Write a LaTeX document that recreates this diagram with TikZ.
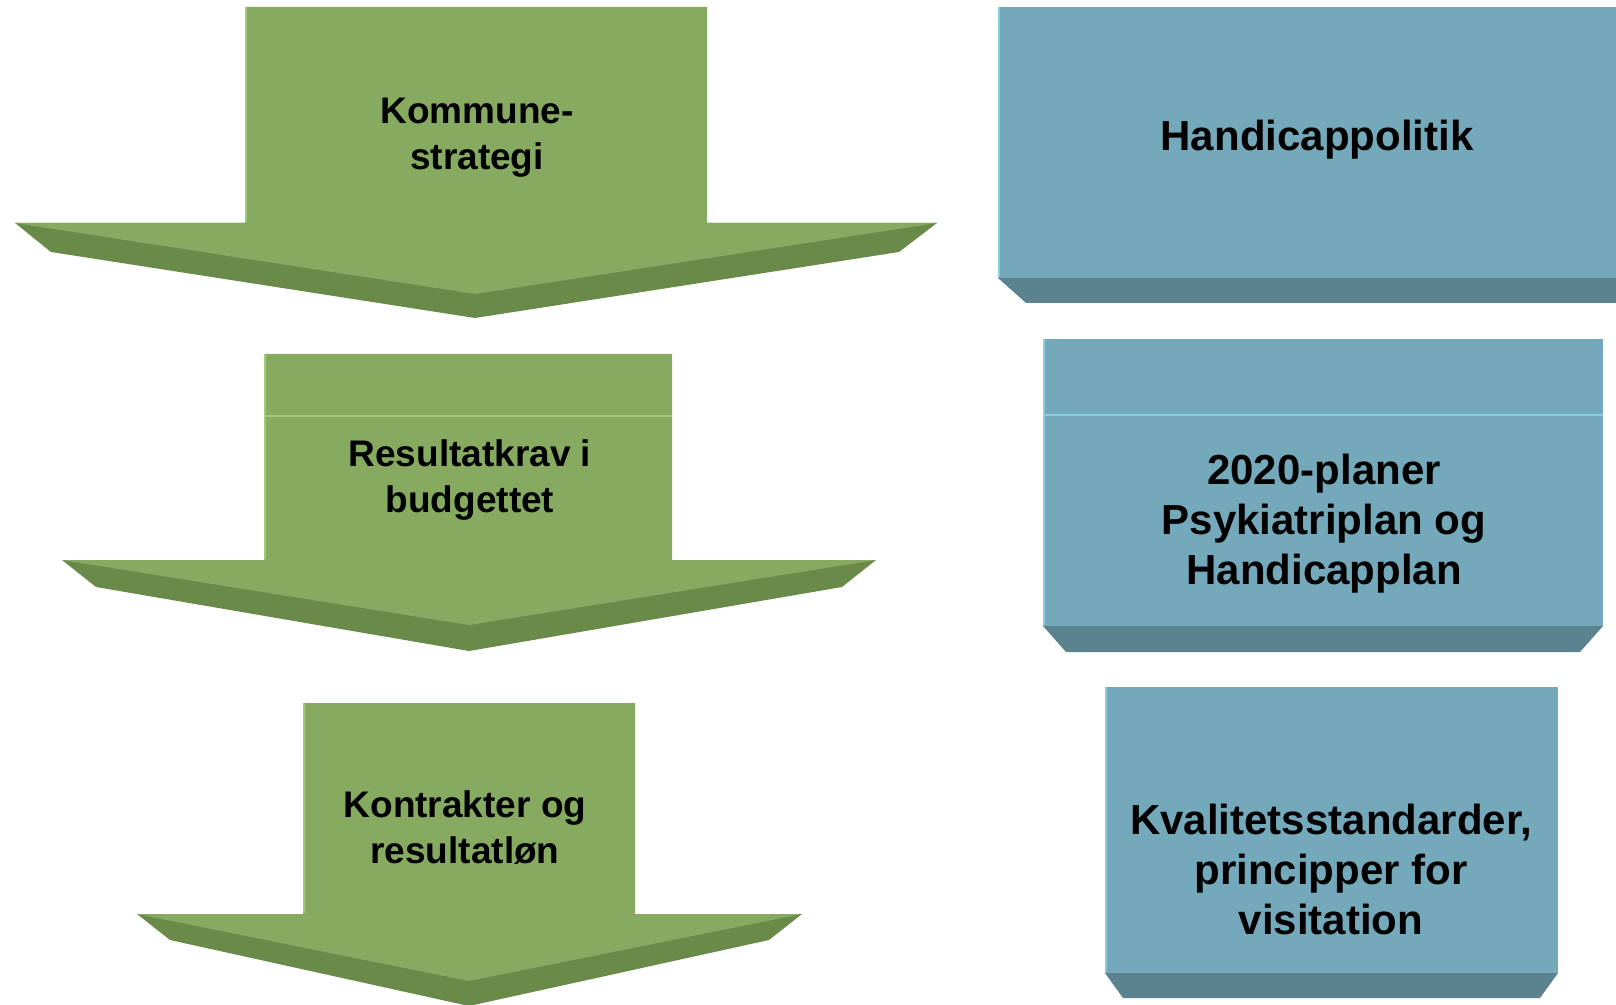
\documentclass[tikz,border=0pt]{standalone}
\usepackage{fontspec}
\setmainfont{Liberation Sans}

\definecolor{greenface}{HTML}{86AA60}
\definecolor{greenshade}{HTML}{6A8A4A}
\definecolor{greenedge}{HTML}{A2CA78}
\definecolor{blueface}{HTML}{74A9BB}
\definecolor{blueshade}{HTML}{5A838F}
\definecolor{blueedge}{HTML}{8ACDE0}

\begin{document}
\begin{tikzpicture}[x=0.5pt,
					y=-0.5pt,
					green face/.style={fill=greenface},
					green shade/.style={fill=greenshade},
					blue face/.style={fill=blueface},
					blue shade/.style={fill=blueshade},
					green edge/.style={draw=greenedge,line width=1pt},
					blue edge/.style={draw=blueedge,line width=1pt},
					green text/.style={align=center,font=\bfseries\fontsize{18.5}{23}\selectfont},
					blue text/.style={align=center,font=\bfseries\fontsize{21}{25}\selectfont}]

  \useasboundingbox (0,0) rectangle (1616,1005);

  % arrows on the left
  \fill[green shade] (15,223) -- (51,252) -- (475,318) -- (899,252) -- (937,223) -- cycle;
  \fill[green face] (245,7) -- (707,7) -- (707,223) -- (937,223) -- (475,294)
    -- (15,223) -- (245,223) -- cycle;
  \draw[green edge] (246,7) -- (246,222);

  \fill[green shade] (62,560) -- (96,587) -- (469,651) -- (842,587) -- (876,560) -- cycle;
  \fill[green face] (264,354) -- (672,354) -- (672,560) -- (876,560) -- (469,625)
    -- (62,560) -- (264,560) -- cycle;
  \draw[green edge] (265,354) -- (265,559);
  \draw[green edge] (264,416) -- (672,416);

  \fill[green shade] (137,914) -- (170,940) -- (469,1006) -- (769,940) -- (802,914) -- cycle;
  \fill[green face] (303,703) -- (635,703) -- (635,914) -- (802,914) -- (469,981)
    -- (137,914) -- (303,914) -- cycle;
  \draw[green edge] (304,703) -- (304,913);

  % boxes on the right
  \fill[blue shade] (998,278) -- (1026,303) -- (1616,303) -- (1616,278) -- cycle;
  \fill[blue face] (998,7) rectangle (1616,278);
  \draw[blue edge] (999,7) -- (999,277);

  \fill[blue shade] (1043,626) -- (1066,652) -- (1580,652) -- (1603,626) -- cycle;
  \fill[blue face] (1043,339) rectangle (1603,626);
  \draw[blue edge] (1044,339) -- (1044,625);
  \draw[blue edge] (1043,415) -- (1603,415);

  \fill[blue shade] (1105,973) -- (1123,998) -- (1540,998) -- (1558,973) -- cycle;
  \fill[blue face] (1105,687) rectangle (1558,973);
  \draw[blue edge] (1106,687) -- (1106,972);

  % texts
  \node[green text] (kommune) at (477,138) {Kommune-\\strategi};
  \node[green text] (resultat) at (470,480) {Resultatkrav i\\budgettet};
  \node[green text] (kontrakt) at (465,828) {Kontrakter og\\resultatløn};

  \node[blue text] (politik) at (1317,140) {Handicappolitik};
  \node[blue text] (planer) at (1324,524) {2020-planer\\Psykiatriplan og\\Handicapplan};
  \node[blue text] (kvalitet) at (1331,869) {Kvalitetsstandarder,\\principper for\\visitation};
\end{tikzpicture}
\end{document}
